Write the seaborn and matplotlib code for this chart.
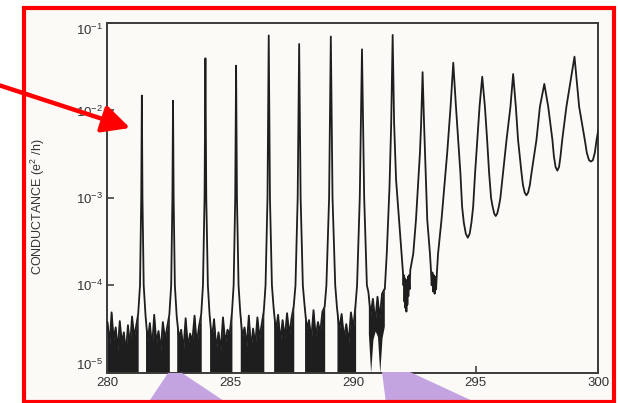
import numpy as np
import pandas as pd
import matplotlib
matplotlib.use("Agg")
import matplotlib.pyplot as plt
import seaborn as sns
from matplotlib.patches import Rectangle, Polygon
from matplotlib.ticker import NullLocator

# Sharp peaks, 281-291 V: gate voltage (V) and conductance (e^2/h)
peak_v = [281.40, 282.67, 283.99, 285.24, 286.57, 287.81, 289.10, 290.37]
peak_g = [1.48e-2, 1.29e-2, 3.95e-2, 3.25e-2, 7.2e-2, 5.75e-2, 7.0e-2, 5.0e-2]
# half-width of each peak (V) at 1e-3, at 1e-4 and where the skirt meets the noise
hw_1e3 = [0.025, 0.025, 0.035, 0.035, 0.05, 0.06, 0.07, 0.09]
hw_1e4 = [0.075, 0.075, 0.10, 0.10, 0.13, 0.15, 0.18, 0.20]
hw_base = [0.15, 0.15, 0.17, 0.17, 0.20, 0.22, 0.25, 0.26]

# noise band in the gaps between sharp peaks, in units of 1e-5 e^2/h
noise_top = [
    [3.8, 2.1, 4.9, 2.4, 3.3, 1.8, 3.9, 2.2, 2.9, 1.7, 3.5, 2.0, 4.4, 2.6, 3.4, 4.7],
    [4.5, 2.3, 3.7, 1.9, 4.6, 2.2, 3.0, 1.8, 3.8, 2.4, 3.3, 4.6],
    [4.4, 2.5, 3.1, 1.8, 4.2, 2.0, 2.8, 2.3, 4.5, 2.1, 3.4, 4.7],
    [4.6, 2.4, 4.1, 1.9, 2.9, 1.8, 4.3, 2.2, 3.1, 2.8, 4.8],
    [4.9, 2.6, 3.3, 2.0, 4.5, 1.9, 3.2, 2.1, 4.3, 2.5, 3.6, 5.1],
    [5.5, 3.0, 4.6, 2.3, 4.0, 2.5, 4.8, 2.7, 4.2, 5.8],
    [5.9, 3.2, 4.0, 2.4, 5.2, 2.6, 3.8, 2.9, 5.0, 5.7],
    [5.6, 3.1, 4.7, 2.5, 3.6, 2.2, 4.9, 3.2, 6.1],
    [8.4, 4.6, 7.0, 3.8, 7.4, 4.2, 8.0, 9.0],
]
# bottom of the noise band; the last gap only reaches the axis in thin strands
noise_floor = [1.0, 1.0, 1.0, 1.0, 1.0, 1.0, 1.0, 1.0,
               [2.8, 1.0, 2.4, 3.0, 2.6, 1.0, 2.5, 3.4]]

# from 291.3 V on the peaks broaden; trace read point by point
broad_v = [291.30, 291.38, 291.49, 291.56, 291.62, 291.68, 291.76, 291.88, 291.98, 292.04,
           292.06, 292.08, 292.10, 292.12, 292.14, 292.16, 292.18, 292.20, 292.22, 292.24,
           292.26, 292.28, 292.31, 292.34,
           292.46, 292.57, 292.73, 292.78, 292.84, 292.90, 292.94, 293.03, 293.14,
           293.18, 293.21, 293.24, 293.27, 293.30, 293.33, 293.36, 293.39, 293.42,
           293.47, 293.61, 293.84, 293.98, 294.09, 294.20, 294.29, 294.38, 294.45,
           294.52, 294.60, 294.68, 294.76, 294.83, 294.90,
           294.98, 295.07, 295.16, 295.27, 295.38, 295.47, 295.55, 295.63,
           295.69, 295.76, 295.82, 295.88, 295.95,
           296.01, 296.12, 296.26, 296.42, 296.53, 296.64, 296.73, 296.87,
           296.93, 297.00, 297.07, 297.14, 297.21,
           297.28, 297.48, 297.62, 297.80, 297.96, 298.13,
           298.19, 298.26, 298.33, 298.40, 298.46,
           298.53, 298.70, 298.92, 299.03, 299.22, 299.45,
           299.53, 299.62, 299.70, 299.78, 299.86, 299.93, 300.00]
broad_g = [9.0e-5, 2.3e-4, 1.3e-3, 7.0e-3, 7.3e-2, 7.0e-3, 1.6e-3, 5.6e-4, 2.3e-4, 1.4e-4,
           1.0e-4, 1.3e-4, 6.5e-5, 1.2e-4, 5.5e-5, 1.1e-4, 5.0e-5, 1.15e-4, 6.0e-5, 1.25e-4,
           7.5e-5, 1.3e-4, 9.0e-5, 1.5e-4,
           2.3e-4, 5.6e-4, 3.2e-3, 7.0e-3, 2.74e-2, 7.0e-3, 3.2e-3, 5.6e-4, 2.3e-4,
           1.5e-4, 1.0e-4, 1.4e-4, 8.5e-5, 1.3e-4, 8.0e-5, 1.25e-4, 9.0e-5, 1.35e-4,
           2.3e-4, 5.6e-4, 3.2e-3, 1.1e-2, 3.51e-2, 1.1e-2, 4.6e-3, 1.94e-3, 7.9e-4,
           5.2e-4, 3.9e-4, 3.5e-4, 3.9e-4, 5.2e-4, 7.9e-4,
           1.94e-3, 4.6e-3, 1.1e-2, 2.43e-2, 1.1e-2, 4.6e-3, 1.94e-3, 1.0e-3,
           8.0e-4, 6.6e-4, 6.2e-4, 6.6e-4, 8.0e-4,
           1.0e-3, 1.94e-3, 4.6e-3, 1.1e-2, 2.61e-2, 1.1e-2, 4.6e-3, 1.94e-3,
           1.4e-3, 1.15e-3, 1.07e-3, 1.15e-3, 1.4e-3,
           1.94e-3, 4.6e-3, 1.1e-2, 2.01e-2, 1.1e-2, 4.6e-3,
           3.0e-3, 2.25e-3, 2.05e-3, 2.25e-3, 3.0e-3,
           4.6e-3, 1.1e-2, 2.66e-2, 4.12e-2, 1.1e-2, 4.6e-3,
           3.3e-3, 2.7e-3, 2.6e-3, 2.7e-3, 3.3e-3, 4.6e-3, 6.0e-3]

x_ticks = [280, 285, 290, 295, 300]
y_ticks = [1e-5, 1e-4, 1e-3, 1e-2, 1e-1]
y_tick_labels = [r"$10^{-5}$", r"$10^{-4}$", r"$10^{-3}$", r"$10^{-2}$", r"$10^{-1}$"]

W, H = 618, 403


def px(x, y):
    """Pixel position (from top-left) to figure fraction."""
    return (x / W, 1 - y / H)


def build_trace():
    """Join noise gaps, sharp peaks and the broad part into one trace."""
    vs, gs, bands = [], [], []
    left = 280.0
    for i in range(len(noise_top)):
        if i < len(peak_v):
            right = peak_v[i] - hw_base[i]
        else:
            right = broad_v[0] - 0.02
        nv = np.linspace(left, right, len(noise_top[i]))
        ng = np.array(noise_top[i]) * 1e-5
        bands.append((nv, np.array(noise_floor[i]) * 1e-5, ng))
        vs += list(nv)
        gs += list(ng)
        if i < len(peak_v):
            v0 = peak_v[i]
            vs += [v0 - hw_1e4[i], v0 - hw_1e3[i], v0, v0 + hw_1e3[i], v0 + hw_1e4[i]]
            gs += [1e-4, 1e-3, peak_g[i], 1e-3, 1e-4]
            left = v0 + hw_base[i]
    vs += broad_v
    gs += broad_g
    return pd.DataFrame({"gate_v": vs, "conductance": gs}), bands


sns.set_theme(style="ticks")
plt.rcParams["font.family"] = ["Liberation Sans", "DejaVu Sans"]
plt.rcParams["mathtext.default"] = "regular"

ink = "#1e1e1e"
paper = "#fbfaf7"

fig = plt.figure(figsize=(W / 100, H / 100), dpi=100, facecolor="white")
x0, y0 = px(107.5, 372.7)
x1, y1 = px(598.3, 23)
ax = fig.add_axes([x0, y0, x1 - x0, y1 - y0])
ax.set_facecolor(paper)

# paper background and red frame
fx0, fy0 = px(24, 401.5)
fx1, fy1 = px(614, 8)
fig.add_artist(Rectangle((fx0, fy0), fx1 - fx0, fy1 - fy0, transform=fig.transFigure,
                         facecolor=paper, edgecolor="none", zorder=-2))

df, bands = build_trace()
for nv, floor, ng in bands:
    ax.fill_between(nv, floor, ng, color=ink, lw=0, zorder=2)
sns.lineplot(data=df, x="gate_v", y="conductance", sort=False, estimator=None,
             color=ink, linewidth=1.3, ax=ax, zorder=3)

ax.set_yscale("log")
ax.set_xlim(280, 300)
ax.set_ylim(1e-5, 1e-1)
ax.set_xticks(x_ticks)
ax.set_xticklabels([str(t) for t in x_ticks])
ax.set_yticks(y_ticks)
ax.set_yticklabels(y_tick_labels)
ax.yaxis.set_minor_locator(NullLocator())
ax.xaxis.set_minor_locator(NullLocator())
ax.tick_params(direction="in", length=5, width=1.1, colors="#333333",
               labelsize=9.5, pad=3)
ylabels = ax.get_yticklabels()
ylabels[-1].set_va("top")
ylabels[0].set_va("bottom")
for s in ax.spines.values():
    s.set_color("#3a3a3a")
    s.set_linewidth(1.4)

ax.set_xlabel("")
ax.set_ylabel("CONDUCTANCE (e$^2$ /h)", fontsize=9, color="#333333")
ax.yaxis.set_label_coords(-0.123, 0.474)

# purple call-out wedges under the axis
lilac = "#c4a4e0"
wedges = [
    [(168, 373), (182, 373), (227, 403), (148, 403)],
    [(382, 372), (410, 372), (477, 403), (386, 403)],
]
for w in wedges:
    fig.add_artist(Polygon([px(*p) for p in w], closed=True, transform=fig.transFigure,
                           facecolor=lilac, edgecolor="none", zorder=1))

fig.add_artist(Rectangle((fx0, fy0), fx1 - fx0, fy1 - fy0, transform=fig.transFigure,
                         fill=False, edgecolor="#ff0000", lw=3, zorder=5))

# red arrow pointing at the first peak
ax.annotate("", xy=(280.92, 6.3e-3), xycoords="data",
            xytext=px(0, 85.5), textcoords="figure fraction",
            arrowprops=dict(arrowstyle="-|>,head_length=0.6,head_width=0.3",
                            color="#ff0000", lw=3.2, shrinkA=0, shrinkB=0,
                            mutation_scale=28),
            annotation_clip=False, zorder=6)

fig.savefig("out.png", dpi=100)
